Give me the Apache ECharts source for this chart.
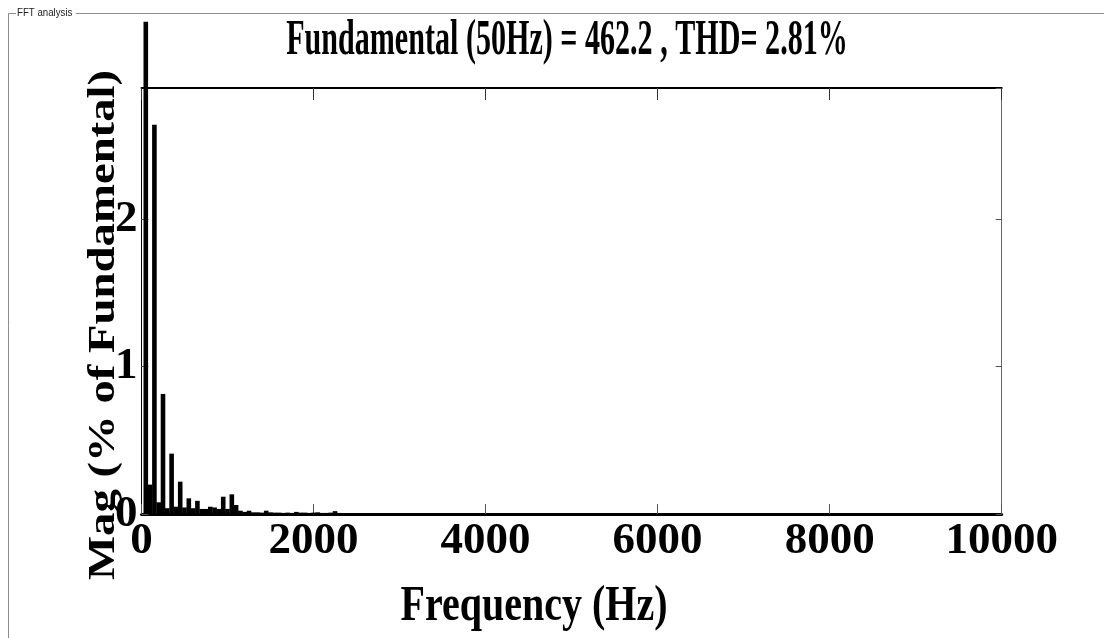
<!DOCTYPE html>
<html>
<head>
<meta charset="utf-8">
<title>FFT analysis</title>
<script src="https://cdn.jsdelivr.net/npm/echarts@6/dist/echarts.min.js"></script>
<style>
  html, body { margin: 0; padding: 0; background: #fff; }
  #chart { width: 1104px; height: 638px; }
</style>
</head>
<body>
<div id="chart"></div>
<script>
// harmonic frequencies (Hz) and magnitudes (% of fundamental)
const freqHz = [
  50, 100, 150, 200, 250, 300, 350, 400, 450, 500,
  550, 600, 650, 700, 750, 800, 850, 900, 950, 1000,
  1050, 1100, 1150, 1200, 1250, 1300, 1350, 1400, 1450, 1500,
  1550, 1600, 1650, 1700, 1750, 1800, 1850, 1900, 1950, 2000,
  2050, 2100, 2150, 2200, 2250, 2300
]
const magPct = [
  3.34, 0.2, 2.64, 0.08, 0.815, 0.04, 0.41, 0.05, 0.22, 0.045,
  0.107, 0.04, 0.09, 0.035, 0.035, 0.05, 0.045, 0.035, 0.118, 0.035,
  0.134, 0.062, 0.023, 0.015, 0.023, 0.012, 0.012, 0.01, 0.023, 0.012,
  0.01, 0.01, 0.008, 0.01, 0.008, 0.015, 0.01, 0.01, 0.008, 0.01,
  0.012, 0.008, 0.008, 0.01, 0.02, 0.008
]
const xTicks = [0, 2000, 4000, 6000, 8000, 10000]
const yTicks = [0, 1, 2]
const yTop = 2.89

const serif = '"Liberation Serif", "Times New Roman", serif'

const chart = echarts.init(document.getElementById('chart'))

const option = {
  backgroundColor: '#fff',
  animation: false,
  grid: {
    left: 141.5,
    right: 102.3,
    top: 88,
    bottom: 123.9
  },
  xAxis: [
    {
      type: 'value',
      position: 'bottom',
      min: xTicks[0],
      max: xTicks[xTicks.length - 1],
      interval: 2000,
      axisLine: { show: true, onZero: false, lineStyle: { color: '#000', width: 3 } },
      axisTick: { show: true, inside: true, length: 10, lineStyle: { color: '#555', width: 1 } },
      axisLabel: {
        margin: 5,
        color: '#000',
        fontFamily: serif,
        fontWeight: 'bold',
        fontSize: 45,
        formatter: v => String(v)
      },
      splitLine: { show: false }
    },
    {
      type: 'value',
      position: 'top',
      min: xTicks[0],
      max: xTicks[xTicks.length - 1],
      interval: 2000,
      axisLine: { show: true, onZero: false, lineStyle: { color: '#000', width: 2 } },
      axisTick: { show: true, inside: true, length: 12, lineStyle: { color: '#333', width: 1 } },
      axisLabel: { show: false },
      splitLine: { show: false }
    }
  ],
  yAxis: [
    {
      type: 'value',
      position: 'left',
      min: yTicks[0],
      max: yTop,
      interval: 1,
      axisLine: { show: true, onZero: false, lineStyle: { color: '#000', width: 1 } },
      axisTick: { show: true, inside: true, length: 7, lineStyle: { color: '#555', width: 1 } },
      axisLabel: {
        margin: 4,
        showMaxLabel: false,
        color: '#000',
        fontFamily: serif,
        fontWeight: 'bold',
        fontSize: 45
      },
      splitLine: { show: false }
    },
    {
      type: 'value',
      position: 'right',
      min: yTicks[0],
      max: yTop,
      interval: 1,
      axisLine: { show: true, onZero: false, lineStyle: { color: '#666', width: 1 } },
      axisTick: { show: true, inside: true, length: 6, lineStyle: { color: '#555', width: 1 } },
      axisLabel: { show: false },
      splitLine: { show: false }
    }
  ],
  series: [
    {
      type: 'bar',
      xAxisIndex: 0,
      yAxisIndex: 0,
      clip: false,
      barWidth: 4.6,
      itemStyle: { color: '#000' },
      data: freqHz.map((f, i) => [f, magPct[i]])
    }
  ],
  graphic: [
    // group box frame round the figure
    {
      type: 'polyline',
      shape: { points: [[16, 13.5], [8.5, 13.5], [8.5, 638]] },
      style: { stroke: '#8c8c8c', lineWidth: 1, fill: null }
    },
    {
      type: 'line',
      shape: { x1: 76, y1: 13.5, x2: 1104, y2: 13.5 },
      style: { stroke: '#8c8c8c', lineWidth: 1 }
    },
    {
      type: 'text',
      x: 17,
      y: 13,
      scaleX: 0.88,
      style: {
        text: 'FFT analysis',
        font: '11px "Liberation Sans", Arial, sans-serif',
        fill: '#222',
        textAlign: 'left',
        textVerticalAlign: 'middle'
      }
    },
    // title
    {
      type: 'text',
      x: 567,
      y: 41,
      scaleX: 0.59,
      style: {
        text: 'Fundamental (50Hz) = 462.2 , THD= 2.81%',
        font: 'bold 51px ' + serif,
        fill: '#000',
        textAlign: 'center',
        textVerticalAlign: 'middle'
      }
    },
    // x axis name
    {
      type: 'text',
      x: 534,
      y: 607,
      scaleX: 0.8,
      style: {
        text: 'Frequency (Hz)',
        font: 'bold 50px ' + serif,
        fill: '#000',
        textAlign: 'center',
        textVerticalAlign: 'middle'
      }
    },
    // y axis name, reads bottom to top
    {
      type: 'text',
      x: 104,
      y: 325,
      rotation: Math.PI / 2,
      scaleX: 1.23,
      style: {
        text: 'Mag (% of Fundamental)',
        font: 'bold 38px ' + serif,
        fill: '#000',
        textAlign: 'center',
        textVerticalAlign: 'middle'
      }
    }
  ]
}

chart.setOption(option)
</script>
</body>
</html>
